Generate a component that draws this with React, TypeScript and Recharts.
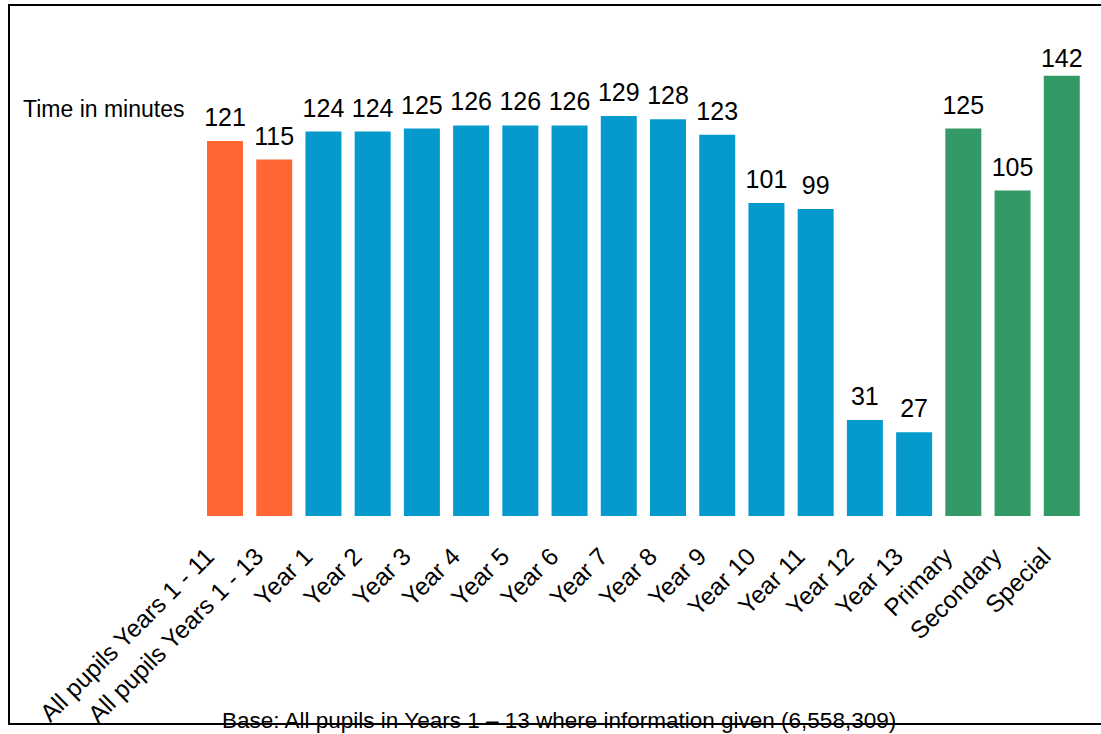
import React from "react";
import { BarChart, Bar, XAxis, YAxis, Cell, LabelList } from "recharts";

const categories = [
  "All pupils Years 1 - 11",
  "All pupils Years 1 - 13",
  "Year 1",
  "Year 2",
  "Year 3",
  "Year 4",
  "Year 5",
  "Year 6",
  "Year 7",
  "Year 8",
  "Year 9",
  "Year 10",
  "Year 11",
  "Year 12",
  "Year 13",
  "Primary",
  "Secondary",
  "Special",
];

const minutes = [121, 115, 124, 124, 125, 126, 126, 126, 129, 128, 123, 101, 99, 31, 27, 125, 105, 142];

const groups = [
  "all", "all",
  "year", "year", "year", "year", "year", "year", "year", "year", "year", "year", "year", "year", "year",
  "school", "school", "school",
];

const groupColors: Record<string, string> = {
  all: "#FF6633",
  year: "#069ACC",
  school: "#339966",
};

const data = categories.map((name, i) => ({ name, minutes: minutes[i], group: groups[i] }));

const FONT = "Arial, 'Liberation Sans', sans-serif";

const AngledTick = (props: any) => {
  const { x, y, payload } = props;
  const tx = x - 9;
  const ty = y + 34;
  return (
    <text
      x={tx}
      y={ty}
      transform={`rotate(-45, ${tx}, ${ty})`}
      textAnchor="end"
      fontSize={24.5}
      fontFamily={FONT}
      fill="#000"
    >
      {payload.value}
    </text>
  );
};

const ValueLabel = (props: any) => {
  const { x, y, width, value } = props;
  // keep the label inside the frame when the bar reaches the top
  const ly = Math.max(y - 15, 67);
  return (
    <text x={x + width / 2} y={ly} textAnchor="middle" fontSize={25} fontFamily={FONT} fill="#000">
      {value}
    </text>
  );
};

export default function App() {
  return (
    <div
      style={{
        position: "fixed",
        left: 0,
        top: 0,
        width: 1101,
        height: 734,
        background: "#fff",
      }}
    >
      <div style={{ position: "absolute", left: 0, top: 0 }}>
        <BarChart
          width={1101}
          height={734}
          data={data}
          margin={{ top: 51, right: 15, bottom: 188, left: 200 }}
        >
          <XAxis
            dataKey="name"
            interval={0}
            tickLine={false}
            axisLine={false}
            tick={<AngledTick />}
            height={30}
          />
          <YAxis hide domain={[0, 150]} />
          <Bar dataKey="minutes" barSize={36} isAnimationActive={false}>
            {data.map((d, i) => (
              <Cell key={i} fill={groupColors[d.group]} />
            ))}
            <LabelList dataKey="minutes" content={<ValueLabel />} />
          </Bar>
        </BarChart>
      </div>
      <svg
        width={1101}
        height={734}
        style={{ position: "absolute", left: 0, top: 0, pointerEvents: "none" }}
      >
        {/* frame: top, left and bottom edges only */}
        <path d="M1101,5 H9 V724 H1101" fill="none" stroke="#000" strokeWidth={2} />
        <text x={23} y={117} fontSize={23} fontFamily={FONT} fill="#000">
          Time in minutes
        </text>
        <text x={222} y={728} fontSize={22.5} fontFamily={FONT} fill="#000">
          Base: All pupils in Years 1 – 13 where information given (6,558,309)
        </text>
      </svg>
    </div>
  );
}
